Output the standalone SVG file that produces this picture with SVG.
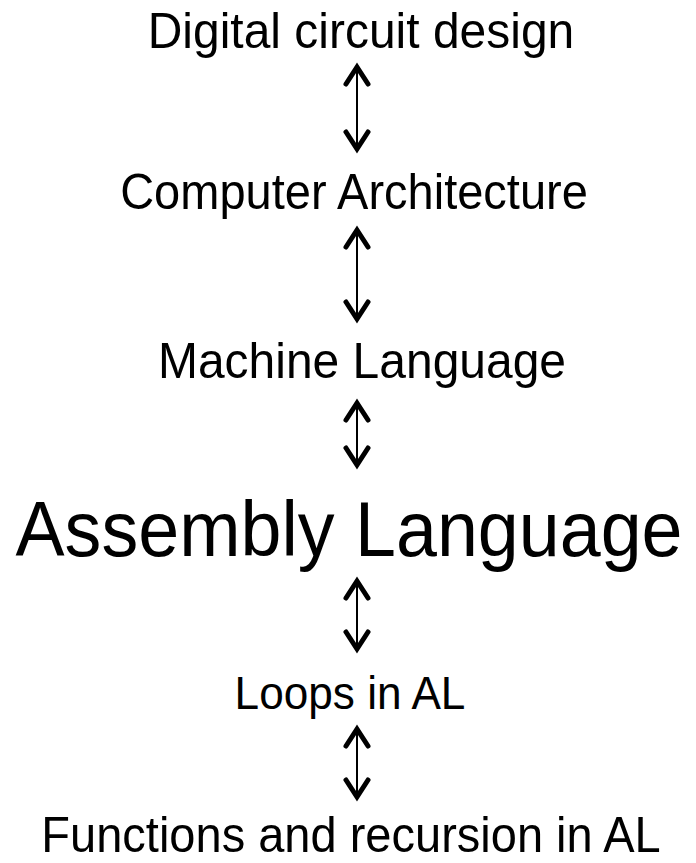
<svg xmlns="http://www.w3.org/2000/svg" width="696" height="863" viewBox="0 0 696 863">
  <defs>
    <style>
      .lbl { font-family: "Liberation Sans", Arial, sans-serif; fill: #000; text-anchor: middle; }
      .shaft { stroke: #000; stroke-width: 2; fill: none; }
      .head { stroke: #000; stroke-width: 5; fill: none; stroke-linecap: round; stroke-linejoin: miter; }
    </style>
  </defs>
  <rect width="696" height="863" fill="#fff"/>

  <g id="connectors">
    <g id="arrow-1">
      <line class="shaft" x1="357" y1="67" x2="357" y2="149"/>
      <polyline class="head" points="346,84 357,67 368,84"/>
      <polyline class="head" points="346,132 357,149 368,132"/>
    </g>
    <g id="arrow-2">
      <line class="shaft" x1="357" y1="230" x2="357" y2="319"/>
      <polyline class="head" points="346,247 357,230 368,247"/>
      <polyline class="head" points="346,302 357,319 368,302"/>
    </g>
    <g id="arrow-3">
      <line class="shaft" x1="357" y1="403" x2="357" y2="465"/>
      <polyline class="head" points="346,420 357,403 368,420"/>
      <polyline class="head" points="346,448 357,465 368,448"/>
    </g>
    <g id="arrow-4">
      <line class="shaft" x1="357" y1="581" x2="357" y2="649"/>
      <polyline class="head" points="346,598 357,581 368,598"/>
      <polyline class="head" points="346,632 357,649 368,632"/>
    </g>
    <g id="arrow-5">
      <line class="shaft" x1="357" y1="729" x2="357" y2="797"/>
      <polyline class="head" points="346,746 357,729 368,746"/>
      <polyline class="head" points="346,780 357,797 368,780"/>
    </g>
  </g>

  <!-- labels are drawn slightly condensed (narrower than tall) -->
  <g id="digital-circuit-design"><text class="lbl" transform="translate(361,48) scale(0.95,1)" font-size="50.5">Digital circuit design</text></g>
  <g id="computer-architecture"><text class="lbl" transform="translate(354,209) scale(0.95,1)" font-size="49.5">Computer Architecture</text></g>
  <g id="machine-language"><text class="lbl" transform="translate(362,378) scale(0.95,1)" font-size="50.5">Machine Language</text></g>
  <g id="assembly-language"><text class="lbl" transform="translate(349,556) scale(0.95,1)" font-size="77.5">Assembly Language</text></g>
  <g id="loops-in-al"><text class="lbl" transform="translate(350,709) scale(0.95,1)" font-size="46.5">Loops in AL</text></g>
  <g id="functions-recursion"><text class="lbl" transform="translate(351,852) scale(0.95,1)" font-size="49.5">Functions and recursion in AL</text></g>
</svg>
